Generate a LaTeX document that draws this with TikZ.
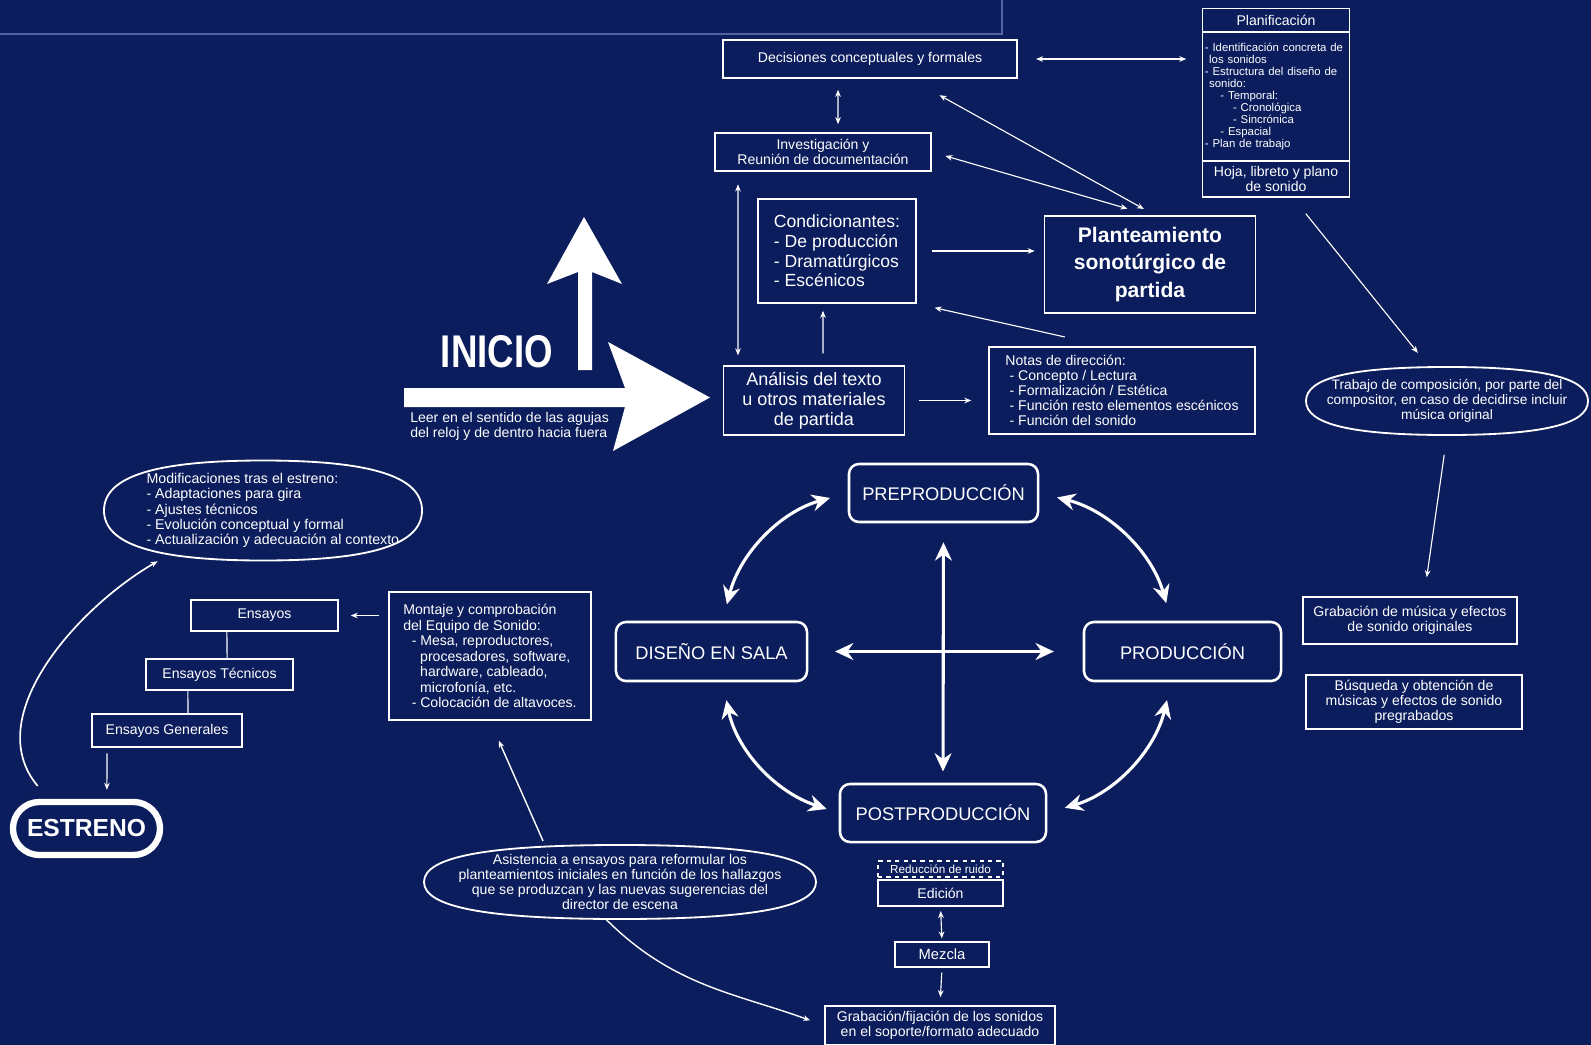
\documentclass[tikz,border=0pt]{standalone}
\usepackage{fontspec}
\setmainfont{Liberation Sans}
\usetikzlibrary{arrows.meta,shapes.geometric}
\definecolor{fondo}{RGB}{11,29,92}
\definecolor{panel}{RGB}{80,100,165}
\newcommand{\ovalo}[3]{\draw [line width=1.3pt,shift={(#1.center)}] (#2,0) .. controls (#2,{-0.68*#3}) and ({0.68*#2},-#3) .. (0,-#3) .. controls ({-0.68*#2},-#3) and (-#2,{-0.68*#3}) .. (-#2,0) .. controls (-#2,{0.68*#3}) and ({-0.68*#2},#3) .. (0,#3) .. controls ({0.68*#2},#3) and (#2,{0.68*#3}) .. (#2,0) -- cycle;}

\begin{document}
\begin{tikzpicture}[x=0.025cm,y=-0.025cm,white]
	\tikzstyle{caja}=[draw,line width=1.1pt,align=center,inner sep=0pt,font=\fontsize{10}{10.8}\selectfont]
	\tikzstyle{fase}=[draw,line width=1.8pt,rounded corners=0.25cm,inner sep=0pt,font=\fontsize{13}{15}\selectfont]
	\tikzstyle{nube}=[ellipse,inner xsep=-25pt,inner ysep=-15pt,align=center,font=\fontsize{10}{10.8}\selectfont]
	\tikzstyle{flecha}=[line width=0.8pt,-{Stealth[length=5pt,width=4pt]}]
	\tikzstyle{doble}=[line width=0.8pt,{Stealth[length=5pt,width=4pt]}-{Stealth[length=5pt,width=4pt]}]
	\tikzstyle{ciclo}=[line width=2.2pt,{Stealth[length=13pt,width=12pt]}-{Stealth[length=13pt,width=12pt]}]
	\fill [fondo] (0,0) rectangle (1591,1045);
	\useasboundingbox (0,0) rectangle (1591,1045);
	\draw [panel,line width=1.2pt] (0,34) -- (1002,34) -- (1002,0);
	\node (dec) at (870,59) [caja,minimum width=7.35cm,minimum height=0.95cm] {Decisiones conceptuales y formales};
	\node (planh) at (1276,20.5) [caja,minimum width=3.675cm,minimum height=0.6cm] {Planificación};
	\node (planb) at (1276,96.5) [caja,minimum width=3.675cm,minimum height=3.225cm,text width=3.55cm,align=left,font=\fontsize{8.1}{8.45}\selectfont] {- Identificación concreta de\\
		\hspace*{3pt}los sonidos\\
		- Estructura del diseño de\\
		\hspace*{3pt}sonido:\\
		\hspace*{11pt}- Temporal:\\
		\hspace*{20pt}- Cronológica\\
		\hspace*{20pt}- Sincrónica\\
		\hspace*{11pt}- Espacial\\
		- Plan de trabajo};
	\node (planf) at (1276,179) [caja,minimum width=3.675cm,minimum height=0.9cm] {Hoja, libreto y plano\\de sonido};
	\node (inv) at (823,152) [caja,minimum width=5.4cm,minimum height=0.95cm] {Investigación y\\Reunión de documentación};
	\node (cond) at (837,251) [caja,minimum width=3.95cm,minimum height=2.6cm,align=left,font=\fontsize{12.5}{13.9}\selectfont] {Condicionantes:\\- De producción\\- Dramatúrgicos\\- Escénicos};
	\node (plan) at (1150,264.5) [caja,minimum width=5.275cm,minimum height=2.425cm,font=\fontsize{15}{19.8}\selectfont\bfseries] {Planteamiento\\sonotúrgico de\\partida};
	\node (anal) at (814,400.5) [caja,minimum width=4.525cm,minimum height=1.725cm,font=\fontsize{12.8}{14.3}\selectfont] {Análisis del texto\\u otros materiales\\de partida};
	\node (notas) at (1122,390.5) [caja,minimum width=6.65cm,minimum height=2.175cm,align=left] {Notas de dirección:\\
		\hspace*{3pt}- Concepto / Lectura\\
		\hspace*{3pt}- Formalización / Estética\\
		\hspace*{3pt}- Función resto elementos escénicos\\
		\hspace*{3pt}- Función del sonido};
	\node (trab) at (1447,401) [nube,minimum width=7.1cm,minimum height=1.7cm,font=\fontsize{9.8}{10.8}\selectfont] {Trabajo de composición, por parte del\\compositor, en caso de decidirse incluir\\música original};
	\ovalo{trab}{141}{34}
	\node (gmus) at (1410,620.5) [caja,minimum width=5.35cm,minimum height=1.175cm] {Grabación de música y efectos\\de sonido originales};
	\node (busq) at (1414,702) [caja,minimum width=5.4cm,minimum height=1.35cm] {Búsqueda y obtención de\\músicas y efectos de sonido\\pregrabados};
	\node (pre) at (943.5,493) [fase,minimum width=4.725cm,minimum height=1.45cm] {PREPRODUCCIÓN};
	\node (sala) at (711.5,651.5) [fase,minimum width=4.775cm,minimum height=1.475cm] {DISEÑO EN SALA};
	\node (prod) at (1182.5,651.5) [fase,minimum width=4.925cm,minimum height=1.475cm] {PRODUCCIÓN};
	\node (post) at (943,813) [fase,minimum width=5.15cm,minimum height=1.45cm] {POSTPRODUCCIÓN};
	\node (ruido) at (940.5,869) [caja,dashed,minimum width=3.125cm,minimum height=0.4cm,font=\fontsize{8.3}{9}\selectfont] {Reducción de ruido};
	\node (edic) at (940.5,893) [caja,minimum width=3.125cm,minimum height=0.65cm] {Edición};
	\node (mezc) at (942,954.5) [caja,minimum width=2.35cm,minimum height=0.625cm,font=\fontsize{10.5}{12}\selectfont] {Mezcla};
	\node (gfij) at (940,1025.5) [caja,minimum width=5.75cm,minimum height=0.975cm] {Grabación/fijación de los sonidos\\en el soporte/formato adecuado};
	\node (asis) at (620,882) [nube,minimum width=9.85cm,minimum height=1.85cm] {Asistencia a ensayos para reformular los\\planteamientos iniciales en función de los hallazgos\\que se produzcan y las nuevas sugerencias del\\director de escena};
	\ovalo{asis}{196}{37}
	\node (mont) at (490,656) [caja,minimum width=5.05cm,minimum height=3.2cm,align=left,font=\fontsize{10}{11}\selectfont] {Montaje y comprobación\\
		del Equipo de Sonido:\\
		\hspace*{6pt}- Mesa, reproductores,\\
		\hspace*{12pt}procesadores, software,\\
		\hspace*{12pt}hardware, cableado,\\
		\hspace*{12pt}microfonía, etc.\\
		\hspace*{6pt}- Colocación de altavoces.};
	\node (ens) at (264.5,615.5) [caja,minimum width=3.675cm,minimum height=0.775cm] {Ensayos};
	\node (enst) at (219.5,674.5) [caja,minimum width=3.675cm,minimum height=0.775cm] {Ensayos Técnicos};
	\node (ensg) at (167,730.5) [caja,minimum width=3.75cm,minimum height=0.825cm] {Ensayos Generales};
	\node (estr) at (86.5,828.5) [draw,line width=4.5pt,rounded corners=0.66cm,minimum width=3.675cm,minimum height=1.325cm,font=\fontsize{17.5}{20}\selectfont\bfseries] {ESTRENO};
	\node (modi) at (263,510.5) [nube,minimum width=8cm,minimum height=2.55cm,align=left,font=\fontsize{10.1}{10.8}\selectfont] {\hspace*{14pt}Modificaciones tras el estreno:\\
		\hspace*{14pt}- Adaptaciones para gira\\
		\hspace*{14pt}- Ajustes técnicos\\
		\hspace*{14pt}- Evolución conceptual y formal\\
		\hspace*{14pt}- Actualización y adecuación al contexto};
	\ovalo{modi}{159}{50}
	\node (inicio) at (497,352) [xscale=0.8,font=\fontsize{32.6}{36}\selectfont\bfseries] {INICIO};
	\node (leer) at (410,426) [anchor=west,align=left,inner sep=0pt,font=\fontsize{10}{10.8}\selectfont] {Leer en el sentido de las agujas\\del reloj y de dentro hacia fuera};
	\fill (404,388) -- (625,388) -- (608,342) -- (710,397.5) -- (613,451) -- (625,407) -- (404,407) -- cycle;
	\fill (578,370) -- (578,272) -- (547,284) -- (584,217) -- (622,284) -- (592,272) -- (592,370) -- cycle;
	\draw [doble,shorten <=13pt,shorten >=11pt] (dec.east) -- (dec.east -| planb.west);
	\draw [doble,shorten <=7.8pt,shorten >=5.7pt] ([xshift=-0.8cm]dec.south) -- ([xshift=0.375cm]inv.north);
	\draw [doble,shorten <=9pt,shorten >=24pt] ([xshift=0.125cm]plan.north) -- ([xshift=1cm]dec.south);
	\draw [doble,shorten <=10pt,shorten >=16.7pt] (inv.east) -- (plan.north);
	\draw [doble,shorten <=9pt,shorten >=7pt] ([xshift=-2.125cm]inv.south) -- ([xshift=-1.9cm]anal.north);
	\draw [flecha,shorten <=8.5pt,shorten >=5pt] ([xshift=0.225cm]anal.north) -- ([xshift=-0.35cm]cond.south);
	\draw [flecha,shorten <=10.6pt,shorten >=6.4pt] (cond.east) -- (cond.east -| plan.west);
	\draw [flecha,shorten <=30pt,shorten >=13pt] ([xshift=-0.4cm]notas.north) -- (cond.south east);
	\draw [flecha,shorten <=10pt,shorten >=12pt] (anal.east) -- (anal.east -| notas.west);
	\draw [flecha,shorten <=14.5pt,shorten >=12.6pt] ([xshift=0.425cm]planf.south) -- ([xshift=-0.45cm]trab.north);
	\draw [flecha,shorten <=14pt,shorten >=13.6pt] (trab.south) -- ([xshift=0.35cm]gmus.north);
	\draw [flecha,shorten <=6.4pt,shorten >=8.5pt] (mont.west |- ens.east) -- (ens.east);
	\draw [line width=0.8pt] ([xshift=-0.94cm]ens.south) -- ([xshift=0.19cm]enst.north);
	\draw [line width=0.8pt] ([xshift=-0.79cm]enst.south) -- ([xshift=0.525cm]ensg.north);
	\draw [flecha,shorten <=4pt,shorten >=6.4pt] ([xshift=-1.5cm]ensg.south) -- ([xshift=0.51cm]estr.north);
	\draw [flecha,line width=1.2pt,shorten <=12pt,shorten >=12pt] ([xshift=-0.95cm]estr.north) to [out=130,in=210] (modi.205);
	\draw [flecha,line width=1pt,shorten <=5pt,shorten >=15.5pt] (asis.155) -- (mont.south);
	\draw [flecha,line width=1pt,shorten >=10.6pt] ([xshift=-0.35cm]asis.south) to [out=-45,in=160] (gfij.west);
	\draw [doble,shorten <=3pt,shorten >=2pt] (edic.south) -- (mezc.north);
	\draw [flecha,shorten <=3.5pt,shorten >=5.7pt] (mezc.south) -- (gfij.north);
	\draw [ciclo,shorten <=13.5pt,shorten >=8pt] (pre.south) -- (post.north);
	\draw [ciclo,shorten <=19pt,shorten >=20.5pt] (sala.east) -- (prod.west);
	\draw [ciclo,shorten <=13pt,shorten >=12pt] (pre.west) to [bend right=30] (sala.70);
	\draw [ciclo,shorten <=13pt,shorten >=13pt] (pre.east) to [bend left=30] (prod.110);
	\draw [ciclo,shorten <=13pt,shorten >=9pt] (sala.290) to [bend right=30] (post.west);
	\draw [ciclo,shorten <=13pt,shorten >=13pt] (post.east) to [bend right=30] (prod.250);
\end{tikzpicture}
\end{document}
